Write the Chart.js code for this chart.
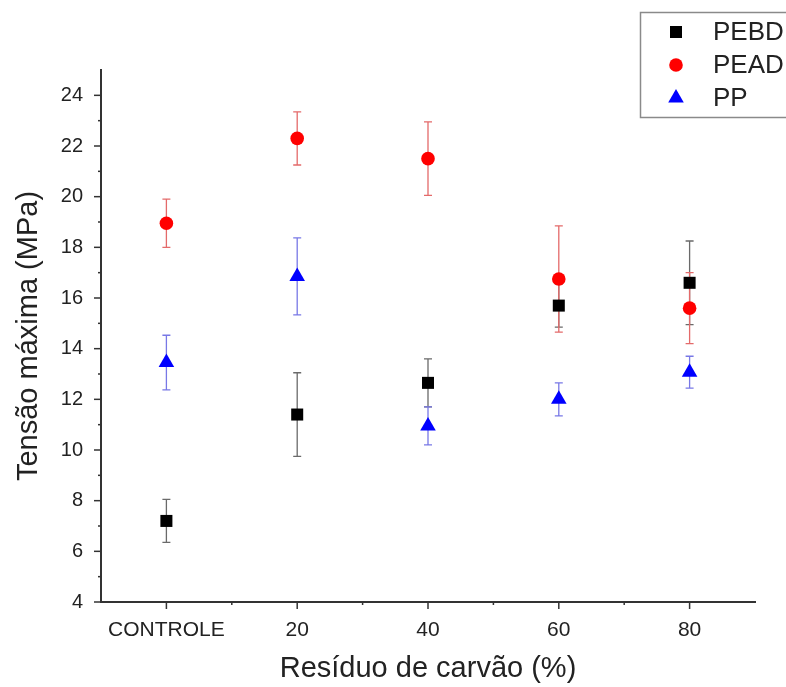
<!DOCTYPE html>
<html>
<head>
<meta charset="utf-8">
<script src="https://cdn.jsdelivr.net/npm/chart.js@4/dist/chart.umd.min.js"></script>
<style>
    html, body { margin: 0; padding: 0; background: #fff; }
    canvas { display: block; }
</style>
</head>
<body>
<canvas id="grafico" width="786" height="687"></canvas>
<script>
    const categorias = ["CONTROLE", "20", "40", "60", "80"];

    const pebd = [7.2, 11.4, 12.65, 15.7, 16.6];
    const pebdErro = [0.85, 1.65, 0.95, 0.85, 1.65];

    const pead = [18.95, 22.3, 21.5, 16.75, 15.6];
    const peadErro = [0.95, 1.05, 1.45, 2.1, 1.4];

    const pp = [13.45, 16.85, 10.95, 12.0, 13.07];
    const ppErro = [1.08, 1.52, 0.75, 0.65, 0.63];

    const yTicks = [4, 6, 8, 10, 12, 14, 16, 18, 20, 22, 24];

    const fonte = "'Liberation Sans', Arial, sans-serif";
    const corTexto = "#222";
    const corEixo = "#333";

    const pontos = (valores) => valores.map((v, i) => ({ x: i, y: v }));

    const desenhaMarcador = (ctx, estilo, x, y, r, cor) => {
        ctx.save();
        ctx.fillStyle = cor;
        ctx.beginPath();
        if (estilo === "rect") {
            const s = r * Math.SQRT1_2;
            ctx.rect(x - s, y - s, 2 * s, 2 * s);
        } else if (estilo === "triangle") {
            ctx.moveTo(x, y - r);
            ctx.lineTo(x + r * Math.cos(Math.PI / 6), y + r / 2);
            ctx.lineTo(x - r * Math.cos(Math.PI / 6), y + r / 2);
            ctx.closePath();
        } else {
            ctx.arc(x, y, r, 0, Math.PI * 2);
        }
        ctx.fill();
        ctx.restore();
    };

    // barras de erro, desenhadas antes dos marcadores
    const barrasErro = {
        id: "barrasErro",
        beforeDatasetsDraw(chart) {
            const { ctx, scales: { x, y } } = chart;
            chart.data.datasets.forEach((ds) => {
                ctx.save();
                ctx.strokeStyle = ds.corErro;
                ctx.lineWidth = 1.3;
                ds.data.forEach((p, i) => {
                    const px = x.getPixelForValue(p.x);
                    const top = y.getPixelForValue(p.y + ds.erro[i]);
                    const bot = y.getPixelForValue(p.y - ds.erro[i]);
                    ctx.beginPath();
                    ctx.moveTo(px, top);
                    ctx.lineTo(px, bot);
                    ctx.moveTo(px - 4, top);
                    ctx.lineTo(px + 4, top);
                    ctx.moveTo(px - 4, bot);
                    ctx.lineTo(px + 4, bot);
                    ctx.stroke();
                });
                ctx.restore();
            });
        },
    };

    // marcas maiores e menores nos eixos
    const marcas = {
        id: "marcas",
        afterDraw(chart) {
            const { ctx, scales: { x, y }, chartArea } = chart;
            ctx.save();
            ctx.strokeStyle = corEixo;
            ctx.lineWidth = 1.5;
            y.ticks.forEach((t) => {
                if (t.value >= y.max) return;
                const py = y.getPixelForValue(t.value);
                const len = t.value % 2 === 0 ? 7 : 3;
                ctx.beginPath();
                ctx.moveTo(chartArea.left - len, py);
                ctx.lineTo(chartArea.left, py);
                ctx.stroke();
            });
            x.ticks.forEach((t) => {
                if (t.value <= x.min || t.value >= x.max) return;
                const px = x.getPixelForValue(t.value);
                const len = Number.isInteger(t.value) ? 7 : 3;
                ctx.beginPath();
                ctx.moveTo(px, chartArea.bottom);
                ctx.lineTo(px, chartArea.bottom + len);
                ctx.stroke();
            });
            ctx.restore();
        },
    };

    // legenda em caixa no canto superior direito
    const legenda = {
        id: "legenda",
        afterDraw(chart) {
            const { ctx } = chart;
            ctx.save();
            ctx.strokeStyle = "#8a8a8a";
            ctx.lineWidth = 1.5;
            ctx.strokeRect(640.5, 12.5, 200, 105);
            ctx.font = `26px ${fonte}`;
            ctx.fillStyle = corTexto;
            ctx.textBaseline = "middle";
            chart.data.datasets.forEach((ds, i) => {
                const cy = 32 + i * 33;
                desenhaMarcador(ctx, ds.pointStyle, 676, cy, ds.pointRadius, ds.backgroundColor);
                ctx.fillStyle = corTexto;
                ctx.fillText(ds.label, 713, cy + 1);
            });
            ctx.restore();
        },
    };

    new Chart(document.getElementById("grafico"), {
        type: "scatter",
        data: {
            datasets: [
                {
                    label: "PEBD",
                    data: pontos(pebd),
                    erro: pebdErro,
                    corErro: "#6a6a6a",
                    pointStyle: "rect",
                    pointRadius: 8.5,
                    backgroundColor: "#000000",
                    borderColor: "#000000",
                    borderWidth: 0,
                },
                {
                    label: "PEAD",
                    data: pontos(pead),
                    erro: peadErro,
                    corErro: "#e46a6a",
                    pointStyle: "circle",
                    pointRadius: 6.8,
                    backgroundColor: "#ff0000",
                    borderColor: "#ff0000",
                    borderWidth: 0,
                },
                {
                    label: "PP",
                    data: pontos(pp),
                    erro: ppErro,
                    corErro: "#7878e6",
                    pointStyle: "triangle",
                    pointRadius: 9,
                    backgroundColor: "#0000ff",
                    borderColor: "#0000ff",
                    borderWidth: 0,
                },
            ],
        },
        options: {
            responsive: false,
            animation: false,
            events: [],
            layout: { padding: { top: 70, right: 31, left: 0, bottom: 0 } },
            plugins: {
                legend: { display: false },
                tooltip: { enabled: false },
            },
            scales: {
                x: {
                    type: "linear",
                    min: -0.5,
                    max: 4.5,
                    afterFit: (s) => { s.height = 85; },
                    afterBuildTicks: (s) => {
                        s.ticks = [];
                        for (let v = -0.5; v <= 4.5; v += 0.5) s.ticks.push({ value: v });
                    },
                    grid: { display: false, drawTicks: false },
                    border: { display: true, color: corEixo, width: 2 },
                    ticks: {
                        autoSkip: false,
                        maxRotation: 0,
                        padding: 16,
                        color: corTexto,
                        font: { family: fonte, size: 21 },
                        callback: (v) => Number.isInteger(v) ? categorias[v] : "",
                    },
                    title: {
                        display: true,
                        text: "Resíduo de carvão (%)",
                        color: corTexto,
                        font: { family: fonte, size: 29 },
                        padding: { top: 0, bottom: 1 },
                    },
                },
                y: {
                    min: 4,
                    max: 25,
                    afterFit: (s) => { s.width = 101; },
                    afterBuildTicks: (s) => {
                        s.ticks = [];
                        for (let v = 4; v <= 25; v++) s.ticks.push({ value: v });
                    },
                    grid: { display: false, drawTicks: false },
                    border: { display: true, color: corEixo, width: 2 },
                    ticks: {
                        autoSkip: false,
                        padding: 18,
                        color: corTexto,
                        font: { family: fonte, size: 20 },
                        callback: (v) => yTicks.includes(v) ? v : "",
                    },
                    title: {
                        display: true,
                        text: "Tensão máxima (MPa)",
                        color: corTexto,
                        font: { family: fonte, size: 29 },
                        padding: { top: 12, bottom: 0 },
                    },
                },
            },
        },
        plugins: [barrasErro, marcas, legenda],
    });
</script>
</body>
</html>
